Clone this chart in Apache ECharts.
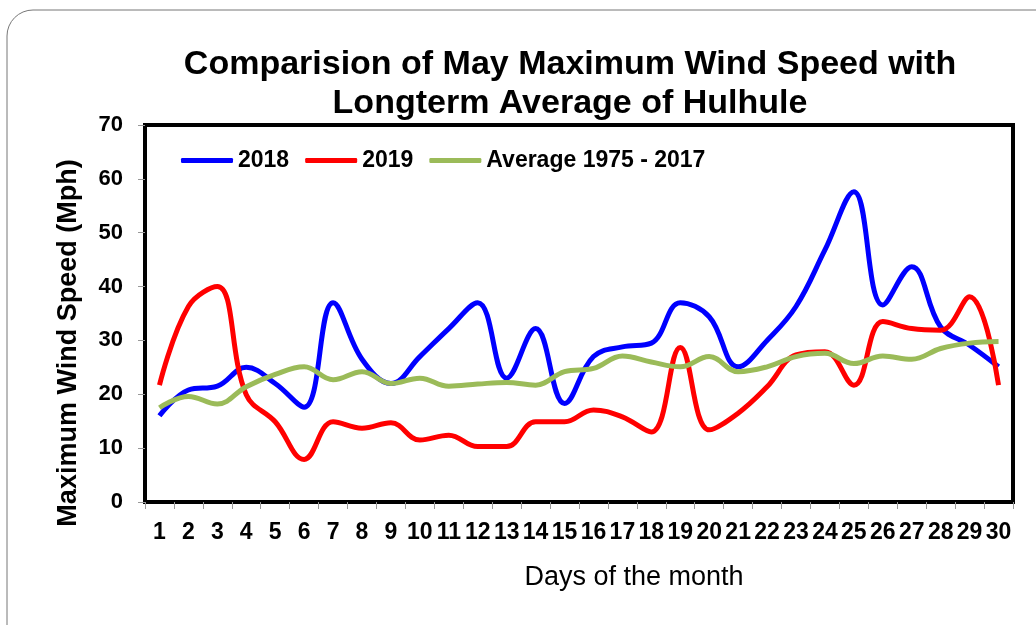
<!DOCTYPE html>
<html>
<head>
<meta charset="utf-8">
<script src="https://cdn.jsdelivr.net/npm/echarts@6/dist/echarts.min.js"></script>
<style>
  html, body { margin: 0; padding: 0; background: #fff; }
  #chart { width: 1036px; height: 625px; }
</style>
</head>
<body>
<div id="chart"></div>
<script>
var days = [];
for (var d = 1; d <= 30; d++) days.push(String(d));

var speed2018 = [16, 20.8, 21.5, 25, 22, 17.6, 37, 26.5, 22, 27,
                 32.2, 37, 23, 32.2, 18.3, 27, 28.8, 29.5, 37, 34.4,
                 25.1, 30, 36.3, 46.8, 57.6, 36.6, 43.7, 32.5, 29.1, 25.1];
var speed2019 = [21.7, 36.3, 40, 19.9, 14.9, 7.9, 14.9, 13.7, 14.7, 11.5,
                 12.4, 10.3, 10.3, 14.9, 14.9, 17.1, 15.8, 13, 28.7, 13.4,
                 16.5, 21.4, 27.3, 27.9, 21.7, 33.5, 32.2, 31.9, 38.1, 21.7];
var speedAvg = [17.5, 19.6, 18.2, 21.4, 23.7, 25.1, 22.7, 24.2, 22, 23,
                21.5, 21.9, 22.2, 21.7, 24.2, 24.8, 27.1, 26, 25.1, 27,
                24.2, 25.1, 27, 27.6, 25.7, 27.1, 26.5, 28.5, 29.5, 29.8];

var FONT = '"Liberation Sans", Arial, sans-serif';

var chart = echarts.init(document.getElementById('chart'));

var option = {
  animation: false,
  backgroundColor: '#fff',
  textStyle: { fontFamily: FONT },
  graphic: [
    {
      type: 'rect',
      z: -1,
      shape: { x: 7, y: 10, width: 1100, height: 700, r: 26 },
      style: { fill: 'none', stroke: '#777', lineWidth: 1 }
    },
    {
      // y axis title, placed like the original (a bit below the middle)
      type: 'text',
      x: 69, y: 343,
      rotation: Math.PI / 2,
      style: {
        text: 'Maximum Wind Speed (Mph)',
        font: 'bold 27px ' + FONT,
        fill: '#000', align: 'center', verticalAlign: 'middle'
      }
    },
    {
      type: 'text',
      x: 634, y: 578,
      style: {
        text: 'Days of the month',
        font: '27px ' + FONT,
        fill: '#000', align: 'center', verticalAlign: 'middle'
      }
    }
  ],
  title: {
    text: 'Comparision of May Maximum Wind Speed with\nLongterm Average of Hulhule',
    left: 565,
    top: 40,
    textAlign: 'center',
    textStyle: {
      fontFamily: FONT, fontSize: 34, fontWeight: 'bold', color: '#000', lineHeight: 39
    }
  },
  legend: {
    left: 176,
    top: 144,
    itemWidth: 52,
    itemHeight: 5,
    itemGap: 16,
    icon: 'roundRect',
    textStyle: { fontFamily: FONT, fontSize: 23, fontWeight: 'bold', color: '#000' },
    data: ['2018', '2019', 'Average 1975 - 2017']
  },
  grid: {
    left: 145, top: 125, right: 23, bottom: 123,
    show: true, borderColor: '#000', borderWidth: 4
  },
  xAxis: {
    type: 'category',
    data: days,
    boundaryGap: true,
    axisLine: { lineStyle: { color: '#000', width: 4 } },
    axisTick: { show: true, length: 7, lineStyle: { color: '#999', width: 1 } },
    axisLabel: { interval: 0, margin: 19, fontFamily: FONT, fontSize: 23, fontWeight: 'bold', color: '#000' },
    splitLine: { show: false }
  },
  yAxis: {
    type: 'value',
    min: 0, max: 70, interval: 10,
    axisLine: { show: true, lineStyle: { color: '#000', width: 4 } },
    axisTick: { show: true, length: 7, lineStyle: { color: '#999', width: 1 } },
    axisLabel: { margin: 22, fontFamily: FONT, fontSize: 22, fontWeight: 'bold', color: '#000' },
    splitLine: { show: false }
  },
  series: [
    {
      name: '2018', type: 'line', data: speed2018, smooth: 0.4,
      showSymbol: false, symbol: 'none',
      lineStyle: { color: '#0000ff', width: 5 }, itemStyle: { color: '#0000ff' }
    },
    {
      name: '2019', type: 'line', data: speed2019, smooth: 0.4,
      showSymbol: false, symbol: 'none',
      lineStyle: { color: '#ff0000', width: 5 }, itemStyle: { color: '#ff0000' }
    },
    {
      name: 'Average 1975 - 2017', type: 'line', data: speedAvg, smooth: 0.4,
      showSymbol: false, symbol: 'none',
      lineStyle: { color: '#9bbb59', width: 5 }, itemStyle: { color: '#9bbb59' }
    }
  ]
};

chart.setOption(option);
</script>
</body>
</html>
